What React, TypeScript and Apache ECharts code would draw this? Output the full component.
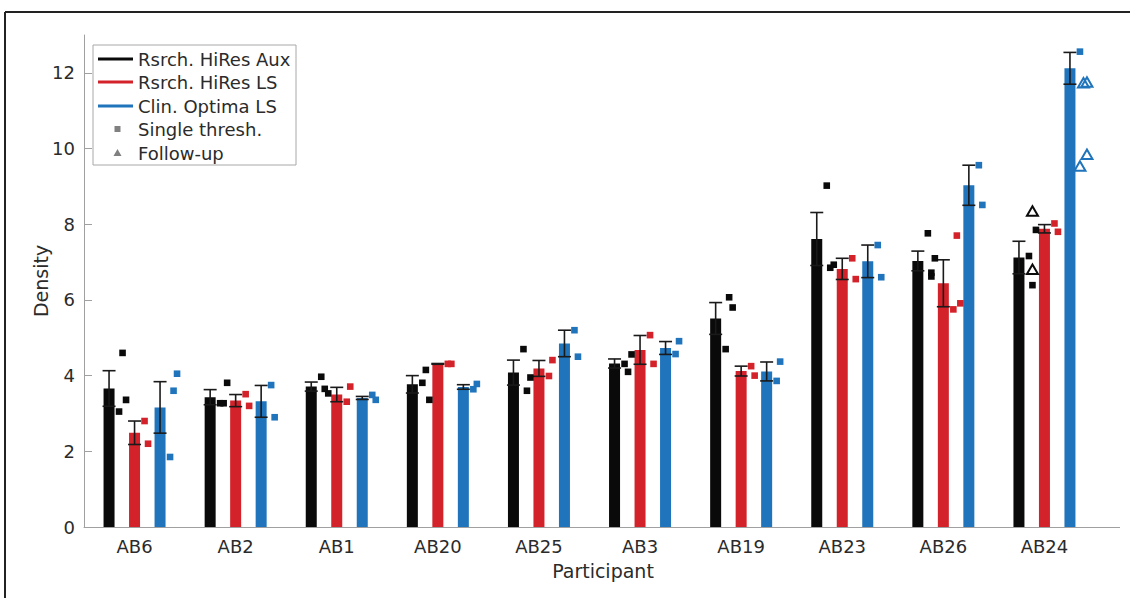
import React, { useEffect, useRef } from "react";
import * as echarts from "echarts";

const categories = ["AB6", "AB2", "AB1", "AB20", "AB25", "AB3", "AB19", "AB23", "AB26", "AB24"];
const seriesNames = ["Rsrch. HiRes Aux", "Rsrch. HiRes LS", "Clin. Optima LS"];
const yTicks = [0, 2, 4, 6, 8, 10, 12];

const auxMean = [3.66, 3.43, 3.71, 3.77, 4.08, 4.32, 5.51, 7.61, 7.03, 7.12];
const auxErr = [0.47, 0.2, 0.12, 0.23, 0.33, 0.12, 0.42, 0.7, 0.26, 0.43];
const lsMean = [2.49, 3.34, 3.5, 4.31, 4.19, 4.68, 4.12, 6.82, 6.44, 7.88];
const lsErr = [0.31, 0.16, 0.19, 0.01, 0.21, 0.38, 0.13, 0.28, 0.62, 0.11];
const optMean = [3.16, 3.32, 3.41, 3.7, 4.85, 4.73, 4.11, 7.02, 9.03, 12.12];
const optErr = [0.68, 0.42, 0.04, 0.06, 0.35, 0.17, 0.25, 0.43, 0.53, 0.42];

// [category index, density, jitter slot]
const auxSingle = [
  [0, 4.6, 1], [0, 3.36, 2], [0, 3.05, 0],
  [1, 3.81, 2], [1, 3.27, 0], [1, 3.27, 1],
  [2, 3.97, 0], [2, 3.65, 1], [2, 3.53, 2],
  [3, 4.15, 1], [3, 3.81, 0], [3, 3.36, 2],
  [4, 4.7, 0], [4, 3.95, 2], [4, 3.6, 1],
  [5, 4.31, 0], [5, 4.56, 2], [5, 4.1, 1],
  [6, 6.07, 1], [6, 5.8, 2], [6, 4.7, 0],
  [7, 9.02, 0], [7, 6.85, 1], [7, 6.93, 2],
  [8, 7.76, 0], [8, 7.1, 2], [8, 6.72, 1], [8, 6.62, 1],
  [9, 7.85, 2], [9, 7.16, 0], [9, 6.39, 1],
];
const auxFollow = [[9, 8.33, 1], [9, 6.79, 1]];
const lsSingle = [
  [0, 2.8, 0], [0, 2.2, 1],
  [1, 3.51, 0], [1, 3.2, 1],
  [2, 3.71, 1], [2, 3.31, 0],
  [3, 4.31, 0], [3, 4.31, 1],
  [4, 4.41, 1], [4, 3.99, 0],
  [5, 5.07, 0], [5, 4.31, 1],
  [6, 4.25, 0], [6, 4.0, 1],
  [7, 7.1, 0], [7, 6.55, 1],
  [8, 7.7, 1], [8, 5.91, 2], [8, 5.75, 0],
  [9, 8.02, 0], [9, 7.8, 1],
];
const lsFollow: number[][] = [];
const optSingle = [
  [0, 4.05, 2], [0, 3.6, 1], [0, 1.85, 0],
  [1, 3.75, 0], [1, 2.9, 1],
  [2, 3.49, 0], [2, 3.36, 1],
  [3, 3.78, 1], [3, 3.64, 0],
  [4, 5.2, 0], [4, 4.5, 1],
  [5, 4.91, 1], [5, 4.57, 0],
  [6, 4.37, 1], [6, 3.86, 0],
  [7, 7.45, 0], [7, 6.6, 1],
  [8, 9.56, 0], [8, 8.51, 1],
  [9, 12.56, 0],
];
const optFollow = [[9, 11.72, 1], [9, 11.74, 2], [9, 9.83, 2], [9, 9.52, 0]];

const COLORS = ["#0a0a0a", "#d3222a", "#1f74bb"];
const BAR_W = 11;
const BAR_STEP = 25.5;
const FONT = "DejaVu Sans";
const TXT = "#2b2b2b";
const AXIS = "#a0a0a0";

export default function App() {
  const ref = useRef<HTMLDivElement>(null);
  useEffect(() => {
    document.body.style.margin = "0";
    const chart = echarts.init(ref.current!, null, { renderer: "svg" });
    const means = [auxMean, lsMean, optMean];
    const errs = [auxErr, lsErr, optErr];
    const singles = [auxSingle, lsSingle, optSingle];
    const follows = [auxFollow, lsFollow, optFollow];

    const series: any[] = [];
    seriesNames.forEach((name, s) => {
      series.push({
        type: "bar",
        name,
        data: means[s],
        barWidth: BAR_W,
        barGap: ((BAR_STEP - BAR_W) / BAR_W) * 100 + "%",
        itemStyle: { color: COLORS[s] },
        z: 2,
      });
    });
    seriesNames.forEach((name, s) => {
      const off = (s - 1) * BAR_STEP;
      series.push({
        type: "custom",
        name: name + " err",
        data: means[s].map((m, i) => [i, m, errs[s][i]]),
        z: 4,
        renderItem: (params: any, api: any) => {
          const i = api.value(0);
          const m = api.value(1);
          const e = api.value(2);
          const t = api.coord([i, m + e]);
          const b = api.coord([i, m - e]);
          const x = t[0] + off;
          const st = { stroke: "#1a1a1a", lineWidth: 1.6 };
          return {
            type: "group",
            children: [
              { type: "line", shape: { x1: x, y1: t[1], x2: x, y2: b[1] }, style: st },
              { type: "line", shape: { x1: x - 6.5, y1: t[1], x2: x + 6.5, y2: t[1] }, style: st },
              { type: "line", shape: { x1: x - 6.5, y1: b[1], x2: x + 6.5, y2: b[1] }, style: st },
            ],
          };
        },
      });
      const mk = (pts: number[][], tri: boolean) => ({
        type: "custom",
        name: name + (tri ? " follow-up" : " single"),
        data: pts,
        z: 5,
        renderItem: (params: any, api: any) => {
          const p = api.coord([api.value(0), api.value(1)]);
          const x = p[0] + off + 10 + 3.5 * api.value(2);
          const y = p[1];
          if (tri) {
            return {
              type: "polygon",
              shape: { points: [[x, y - 5.5], [x - 5.5, y + 4], [x + 5.5, y + 4]] },
              style: { fill: "none", stroke: COLORS[s], lineWidth: 2 },
            };
          }
          return {
            type: "rect",
            shape: { x: x - 3.3, y: y - 3.3, width: 6.6, height: 6.6 },
            style: { fill: COLORS[s] },
          };
        },
      });
      series.push(mk(singles[s], false));
      if (follows[s].length) series.push(mk(follows[s], true));
    });

    const lx = 93, ly = 45;
    const rows = [59, 82, 106, 129, 153];
    const lf = `18px "${FONT}"`;
    const g: any[] = [
      { type: "rect", shape: { x: lx, y: ly, width: 203, height: 120 }, style: { fill: "#fff", stroke: "#a8a8a8", lineWidth: 1 }, z: 10 },
    ];
    seriesNames.forEach((n, s) => {
      g.push({ type: "line", shape: { x1: 98, y1: rows[s], x2: 133, y2: rows[s] }, style: { stroke: COLORS[s], lineWidth: 3 }, z: 11 });
      g.push({ type: "text", x: 138, y: rows[s], style: { text: n, font: lf, fill: TXT, textVerticalAlign: "middle" }, z: 11 });
    });
    g.push({ type: "rect", shape: { x: 114.5, y: rows[3] - 3, width: 6, height: 6 }, style: { fill: "#808080" }, z: 11 });
    g.push({ type: "text", x: 138, y: rows[3], style: { text: "Single thresh.", font: lf, fill: TXT, textVerticalAlign: "middle" }, z: 11 });
    g.push({ type: "polygon", shape: { points: [[117.5, rows[4] - 4], [113.5, rows[4] + 3], [121.5, rows[4] + 3]] }, style: { fill: "#808080" }, z: 11 });
    g.push({ type: "text", x: 138, y: rows[4], style: { text: "Follow-up", font: lf, fill: TXT, textVerticalAlign: "middle" }, z: 11 });
    // x axis line continues past the last category
    g.push({ type: "line", shape: { x1: 1095, y1: 527.5, x2: 1120, y2: 527.5 }, style: { stroke: AXIS, lineWidth: 1 }, z: 1 });
    // figure frame
    g.push({ type: "line", shape: { x1: 5, y1: 12, x2: 1130, y2: 12 }, style: { stroke: "#222", lineWidth: 2 }, z: 11 });
    g.push({ type: "line", shape: { x1: 5, y1: 12, x2: 5, y2: 598 }, style: { stroke: "#222", lineWidth: 2 }, z: 11 });

    chart.setOption({
      animation: false,
      backgroundColor: "#fff",
      grid: { left: 84, right: 35, top: 35, bottom: 71 },
      xAxis: {
        type: "category",
        data: categories,
        name: "Participant",
        nameLocation: "middle",
        nameGap: 34,
        nameTextStyle: { fontFamily: FONT, fontSize: 19, color: TXT, padding: [0, 0, 0, 27] },
        axisLine: { lineStyle: { color: AXIS, width: 1 } },
        axisTick: { show: false },
        axisLabel: { fontFamily: FONT, fontSize: 18, color: TXT, margin: 10 },
      },
      yAxis: {
        type: "value",
        min: 0,
        max: 13,
        interval: 2,
        name: "Density",
        nameLocation: "middle",
        nameGap: 34,
        nameMoveOverlap: false,
        nameTextStyle: { fontFamily: FONT, fontSize: 19, color: TXT },
        axisLine: { show: true, lineStyle: { color: AXIS, width: 1 } },
        axisTick: { show: true, inside: true, length: 8, lineStyle: { color: AXIS }, customValues: yTicks },
        axisLabel: { fontFamily: FONT, fontSize: 18, color: TXT, margin: 9, customValues: yTicks },
        splitLine: { show: false },
      },
      graphic: g,
      series,
    });
    return () => chart.dispose();
  }, []);
  return <div ref={ref} style={{ width: 1130, height: 598 }} />;
}
